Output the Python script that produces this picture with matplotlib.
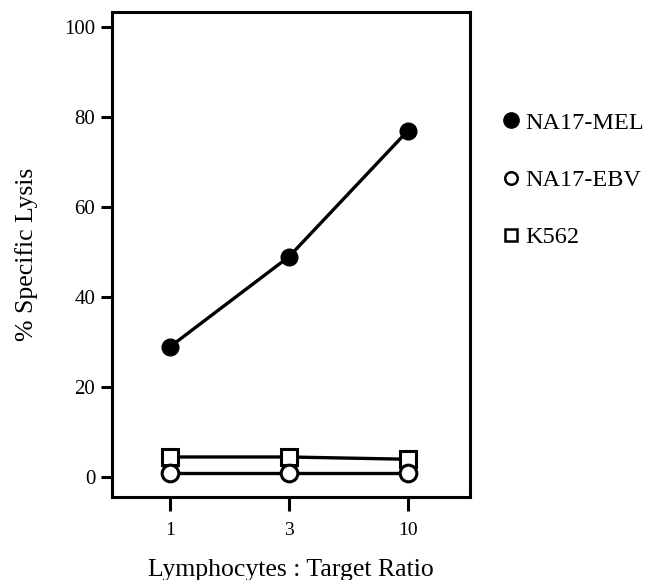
import matplotlib.pyplot as plt
from matplotlib.lines import Line2D

# values
ratios = ['1', '3', '10']
mel = [29, 49, 77]
ebv = [1, 1, 1]
k562 = [4.5, 4.5, 4]
yticks = [0, 20, 40, 60, 80, 100]

plt.rcParams['font.family'] = ['Liberation Serif', 'DejaVu Serif']

fig = plt.figure(figsize=(6.58, 5.80), dpi=100)
ax = fig.add_axes([0.170, 0.143, 0.544, 0.836])

x = range(len(ratios))
ax.plot(x, mel, color='black', lw=2.4, marker='o', ms=12, mfc='black', mec='black')
ax.plot(x, k562, color='black', lw=2.4, marker='s', ms=11, mfc='white', mec='black', mew=2.2)
ax.plot(x, ebv, color='black', lw=2.4, marker='o', ms=12, mfc='white', mec='black', mew=2.2)

ax.set_xlim(-0.49, 2.52)
ax.set_ylim(-4.4, 103.3)
ax.set_xticks(list(x))
ax.set_xticklabels(ratios)
ax.set_yticks(yticks)

for s in ax.spines.values():
    s.set_linewidth(2.2)
ax.tick_params(axis='y', direction='out', length=8, width=2.2, labelsize=15, pad=4)
ax.tick_params(axis='x', direction='out', length=10, width=2.2, labelsize=14, pad=8)

ax.set_ylabel('% Specific Lysis', fontsize=18.5, labelpad=19)
ax.set_xlabel('Lymphocytes : Target Ratio', fontsize=18.5, labelpad=14)

handles = [
    Line2D([], [], ls='none', marker='o', ms=11, mfc='black', mec='black'),
    Line2D([], [], ls='none', marker='o', ms=9, mfc='white', mec='black', mew=1.8),
    Line2D([], [], ls='none', marker='s', ms=9, mfc='white', mec='black', mew=1.8),
]
fig.legend(handles, ['NA17-MEL', 'NA17-EBV', 'K562'], loc='upper left',
           bbox_to_anchor=(0.73, 0.845), frameon=False, fontsize=17.5,
           labelspacing=1.45, handlelength=0.7, handletextpad=0.25)

fig.savefig('out.png', dpi=100)
